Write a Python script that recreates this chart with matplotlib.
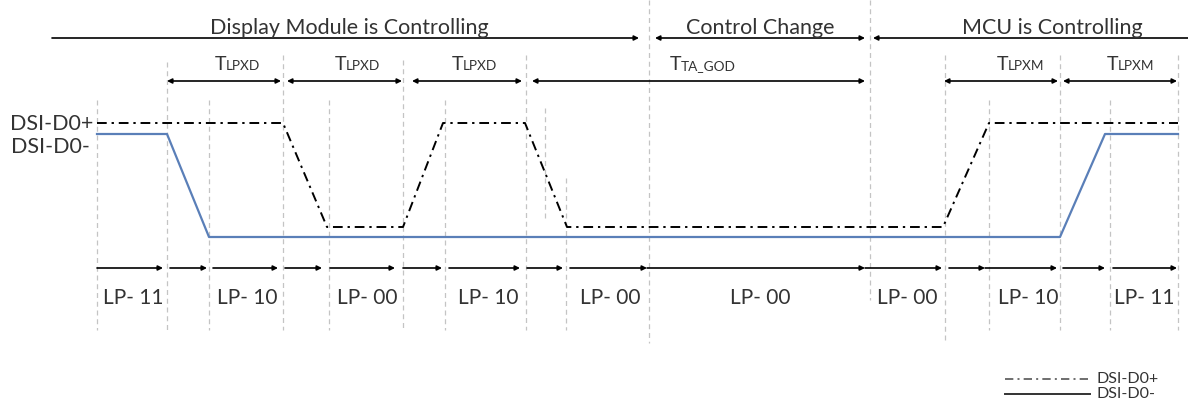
import matplotlib
matplotlib.use("Agg")
import matplotlib.pyplot as plt

plt.rcParams['font.family'] = ['Lato', 'DejaVu Sans']

# time axis is in diagram units (0..1188), level axis in diagram units (0..403, top down)
HIGH_P, LOW_P = 123, 227
HIGH_N, LOW_N = 134, 237

# DSI-D0+ (dash-dot) transitions
dp_t = [97, 283, 327, 403, 443, 525, 567, 943, 989, 1178]
dp_lvl = [1, 1, 0, 0, 1, 1, 0, 0, 1, 1]
# DSI-D0- (solid) transitions
dn_t = [97, 167, 209, 1060, 1105, 1178]
dn_lvl = [1, 1, 0, 0, 1, 1]

# vertical dashed guides: x, top, bottom
grid_x = [97, 167, 209, 283, 329, 403, 445, 526, 545, 566, 649, 870, 945, 989, 1060, 1110, 1178]
grid_top = [100, 62, 100, 55, 100, 60, 100, 55, 108, 178, 0, 0, 55, 100, 55, 100, 55]
grid_bot = [330, 330, 330, 330, 330, 330, 330, 330, 218, 330, 343, 300, 343, 330, 330, 330, 330]

# control phases (top row)
phase_labels = ["Display Module is Controlling", "Control Change", "MCU is Controlling"]
phase_start = [52, 655, 873]
phase_end = [639, 865, 1188]
phase_style = ['-|>', '<|-|>', '<|-']
phase_label_x = [349, 760, 1052]

# timing parameters (second row)
tp_main = ["T", "T", "T", "T", "T", "T"]
tp_sub = ["LPXD", "LPXD", "LPXD", "TA_GOD", "LPXM", "LPXM"]
tp_start = [167, 287, 412, 532, 944, 1063]
tp_end = [281, 402, 522, 865, 1058, 1177]
tp_label_x = [236, 356, 473, 699, 1018, 1128]

# LP states (bottom row)
lp_seg_start = [97, 170, 213, 285, 330, 403, 449, 527, 570, 647, 865, 949, 985, 1063, 1113]
lp_seg_end = [163, 207, 278, 322, 395, 442, 520, 563, 647, 865, 942, 985, 1057, 1105, 1177]
lp_labels = ["LP- 11", "LP- 10", "LP- 00", "LP- 10", "LP- 00", "LP- 00", "LP- 00", "LP- 10", "LP- 11"]
lp_label_x = [133, 247, 367, 488, 610, 760, 907, 1028, 1144]

TXT = '#333333'
BLUE = '#5a7fb8'
DASHDOT = (0, (5, 2.5, 1.2, 2.5))

fig = plt.figure(figsize=(11.88, 4.03), dpi=100)
ax = fig.add_axes([0, 0, 1, 1])
ax.set_xlim(0, 1188)
ax.set_ylim(403, 0)
ax.axis('off')

# guides
for x, t, b in zip(grid_x, grid_top, grid_bot):
    ax.plot([x, x], [t, b], color='#c4c4c4', lw=0.9, ls=(0, (4, 3)), zorder=1)

# signals
yp = [LOW_P + (HIGH_P - LOW_P) * v for v in dp_lvl]
yn = [LOW_N + (HIGH_N - LOW_N) * v for v in dn_lvl]
ax.plot(dn_t, yn, color=BLUE, lw=1.6, zorder=3)
ax.plot(dp_t, yp, color='black', lw=1.4, ls=DASHDOT, zorder=4)

ax.text(93, 124, "DSI-D0+", ha='right', va='center', fontsize=15.5, color=TXT)
ax.text(90, 147, "DSI-D0-", ha='right', va='center', fontsize=15.5, color=TXT)


def arrow(x0, x1, y, style):
    ax.annotate('', xy=(x1, y), xytext=(x0, y),
                arrowprops=dict(arrowstyle=style, color='black', lw=1.2,
                                mutation_scale=7, shrinkA=0, shrinkB=0))


# top row
for lab, s, e, st, lx in zip(phase_labels, phase_start, phase_end, phase_style, phase_label_x):
    arrow(s, e, 38, st)
    ax.text(lx, 38, lab, ha='center', va='bottom', fontsize=15.5, color=TXT)

# timing row
for m, sub, s, e, lx in zip(tp_main, tp_sub, tp_start, tp_end, tp_label_x):
    arrow(s, e, 81, '<|-|>')
    w = 11 + 8.0 * len(sub)
    x0 = lx - w / 2
    ax.text(x0, 70, m, ha='left', va='baseline', fontsize=14, color=TXT)
    ax.text(x0 + 11, 70, sub, ha='left', va='baseline', fontsize=9.8, color=TXT)

# LP state row
for s, e in zip(lp_seg_start, lp_seg_end):
    arrow(s, e, 268, '-|>')
for lab, lx in zip(lp_labels, lp_label_x):
    ax.text(lx, 298, lab, ha='center', va='center', fontsize=15, color=TXT)

# legend
ax.plot([1005, 1090], [379, 379], color='#555555', lw=1.2, ls=DASHDOT)
ax.plot([1005, 1090], [394, 394], color='#333333', lw=1.4)
ax.text(1097, 379, "DSI-D0+", ha='left', va='center', fontsize=11.5, color=TXT)
ax.text(1097, 394, "DSI-D0-", ha='left', va='center', fontsize=11.5, color=TXT)

fig.savefig("out.png", dpi=100)
